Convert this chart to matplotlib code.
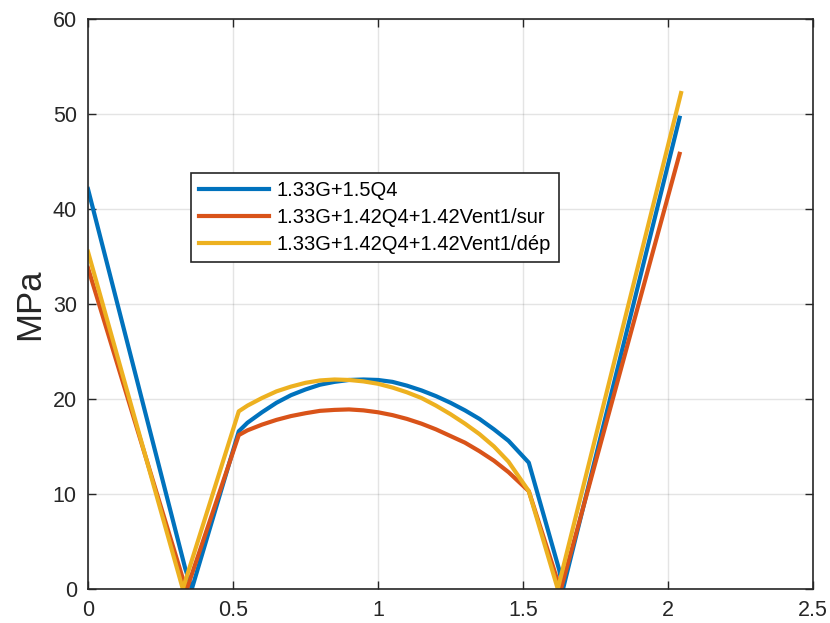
import matplotlib
matplotlib.use("Agg")
import matplotlib.pyplot as plt

plt.rcParams["font.family"] = ["Liberation Sans", "DejaVu Sans"]

# values (x in m, stress in MPa)
x_blue = [0.0, 0.335, 0.358, 0.52, 0.55, 0.6, 0.65, 0.7, 0.75, 0.8, 0.85, 0.9, 0.95, 1.0,
          1.05, 1.1, 1.15, 1.2, 1.25, 1.3, 1.35, 1.4, 1.45, 1.52, 1.625, 1.638, 2.04]
y_blue = [42.1, 2.2, 0.0, 16.6, 17.5, 18.6, 19.6, 20.4, 21.0, 21.5, 21.8, 22.0, 22.05, 22.0,
          21.8, 21.4, 20.9, 20.3, 19.6, 18.8, 17.9, 16.8, 15.6, 13.3, 2.0, 0.0, 49.6]

x_orange = [0.0, 0.33, 0.341, 0.52, 0.55, 0.6, 0.65, 0.7, 0.75, 0.8, 0.85, 0.9, 0.95, 1.0,
            1.05, 1.1, 1.15, 1.2, 1.25, 1.3, 1.35, 1.4, 1.45, 1.52, 1.62, 1.631, 2.04]
y_orange = [33.8, 0.8, 0.0, 16.2, 16.7, 17.3, 17.8, 18.2, 18.5, 18.75, 18.85, 18.9, 18.8, 18.6,
            18.3, 17.9, 17.4, 16.8, 16.1, 15.4, 14.5, 13.5, 12.3, 10.3, 0.8, 0.0, 45.8]

x_yellow = [0.0, 0.327, 0.52, 0.55, 0.6, 0.65, 0.7, 0.75, 0.8, 0.85, 0.9, 0.95, 1.0,
            1.05, 1.1, 1.15, 1.2, 1.25, 1.3, 1.35, 1.4, 1.45, 1.52, 1.62, 2.045]
y_yellow = [35.5, 0.0, 18.7, 19.3, 20.1, 20.8, 21.3, 21.7, 21.95, 22.05, 22.0, 21.85, 21.6,
            21.2, 20.7, 20.1, 19.3, 18.4, 17.4, 16.3, 15.0, 13.4, 10.3, 0.0, 52.2]

labels = ["1.33G+1.5Q4", "1.33G+1.42Q4+1.42Vent1/sur", "1.33G+1.42Q4+1.42Vent1/dép"]
colors = ["#0072BD", "#D95319", "#EDB120"]

fig = plt.figure(figsize=(8.3, 6.23), dpi=100)
ax = fig.add_axes([0.106, 0.0546, 0.8735, 0.915])

ax.plot(x_blue, y_blue, color=colors[0], lw=3, label=labels[0])
ax.plot(x_orange, y_orange, color=colors[1], lw=3, label=labels[1])
ax.plot(x_yellow, y_yellow, color=colors[2], lw=3, label=labels[2])

ax.set_xlim(0, 2.5)
ax.set_ylim(0, 60)
ax.set_xticks([0, 0.5, 1, 1.5, 2, 2.5])
ax.set_xticklabels(["0", "0.5", "1", "1.5", "2", "2.5"])
ax.set_yticks(range(0, 61, 10))
ax.grid(True, color="#262626", alpha=0.12, lw=1)
ax.tick_params(direction="in", top=True, right=True, length=6, width=1,
               labelsize=15.5, colors="#262626", pad=8)
for s in ax.spines.values():
    s.set_color("#262626")
    s.set_linewidth(1.2)
ax.set_ylabel("MPa", fontsize=25, color="#262626", labelpad=5)

leg = ax.legend(loc="upper left", bbox_to_anchor=(0.142, 0.73), fontsize=14.5,
                handlelength=3.5, handletextpad=0.35, labelspacing=0.4,
                borderpad=0.4, fancybox=False, framealpha=1, borderaxespad=0)
leg.get_frame().set_edgecolor("#262626")
leg.get_frame().set_linewidth(1.2)

fig.savefig("out.png", dpi=100)
